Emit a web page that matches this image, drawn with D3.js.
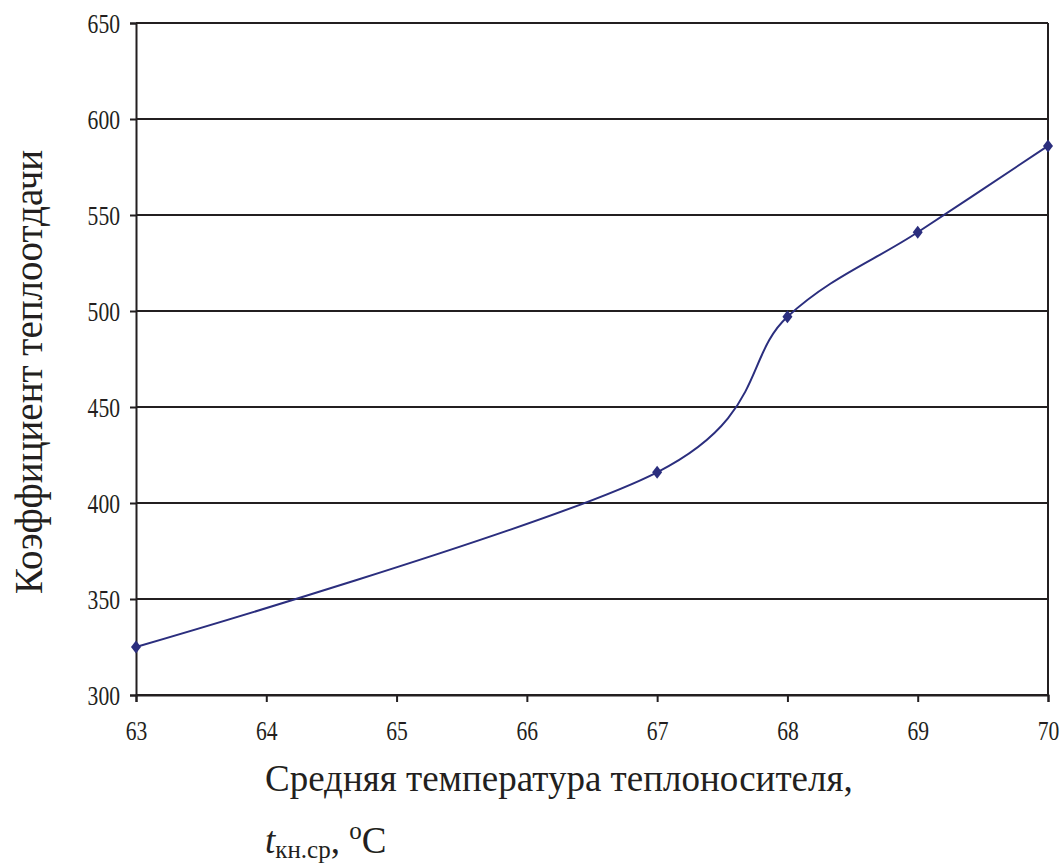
<!DOCTYPE html>
<html>
<head>
<meta charset="utf-8">
<script src="https://cdn.jsdelivr.net/npm/d3@7"></script>
</head>
<body style="margin:0">
<svg width="1064" height="863"></svg>
<script>
// данные с графика
let temps = [63, 67, 68, 69, 70],
    coeffs = [325, 416, 497, 541, 586],
    xTicks = [63, 64, 65, 66, 67, 68, 69, 70],
    yTicks = [300, 350, 400, 450, 500, 550, 600, 650];

let ink = "#231f20";

let svg = d3.select("svg")
    .attr("font-family", "Liberation Serif")
    .style("font-family", '"Liberation Serif", "Times New Roman", Tinos, serif');

let margin = { top: 23, right: 16, bottom: 168, left: 136 },
    width = +svg.attr("width") - margin.left - margin.right,
    height = +svg.attr("height") - margin.top - margin.bottom,
    g = svg.append("g").attr("transform", `translate(${margin.left},${margin.top})`);

let x = d3.scaleLinear().domain([63, 70]).range([0, width]);
let y = d3.scaleLinear().domain([300, 650]).range([height, 0]);

// горизонтальная сетка
g.append("g")
    .selectAll("line")
    .data(yTicks)
    .join("line")
    .attr("x1", 0)
    .attr("x2", width)
    .attr("y1", d => y(d))
    .attr("y2", d => y(d))
    .attr("stroke", ink)
    .attr("stroke-width", 2);

// правая граница
g.append("line")
    .attr("x1", width).attr("x2", width)
    .attr("y1", 0).attr("y2", height)
    .attr("stroke", ink)
    .attr("stroke-width", 2);

let fmt = d3.format("d");
let yAxis = g.append("g")
    .call(d3.axisLeft(y).tickValues(yTicks).tickFormat(fmt).tickSize(6).tickPadding(10));
let xAxis = g.append("g")
    .attr("transform", `translate(0,${height})`)
    .call(d3.axisBottom(x).tickValues(xTicks).tickFormat(fmt).tickSize(7).tickPadding(19));

[xAxis, yAxis].forEach(a => {
    a.attr("font-family", null).attr("font-size", 27);
    a.select(".domain").attr("stroke", ink).attr("stroke-width", 2);
    a.selectAll(".tick line").attr("stroke", ink).attr("stroke-width", 2);
    a.selectAll(".tick text").attr("fill", ink);
});
// узкие цифры как в оригинале
yAxis.selectAll(".tick text").each(function () {
    let t = d3.select(this), xx = +t.attr("x");
    t.attr("x", null).attr("transform", `translate(${xx},0) scale(0.8,1)`).attr("dy", "0.35em");
});
xAxis.selectAll(".tick text").each(function () {
    let t = d3.select(this), yy = +t.attr("y");
    t.attr("y", null).attr("transform", `translate(0,${yy}) scale(0.8,1)`);
});

let pts = temps.map((t, i) => [t, coeffs[i]]);

let line = d3.line()
    .x(d => x(d[0]))
    .y(d => y(d[1]))
    .curve(d3.curveCatmullRom.alpha(0));

g.append("path")
    .datum(pts)
    .attr("d", line)
    .attr("fill", "none")
    .attr("stroke", "#2b2e7e")
    .attr("stroke-width", 2);

g.append("g")
    .selectAll("path")
    .data(pts)
    .join("path")
    .attr("d", "M0,-6.5L5,0L0,6.5L-5,0Z")
    .attr("transform", d => `translate(${x(d[0])},${y(d[1])})`)
    .attr("fill", "#2b2e7e");

// подписи осей
svg.append("text")
    .attr("transform", "translate(42,372) rotate(-90)")
    .attr("text-anchor", "middle")
    .attr("fill", ink)
    .attr("font-size", 39)
    .text("Коэффициент теплоотдачи");

svg.append("text")
    .attr("x", 265)
    .attr("y", 791)
    .attr("fill", ink)
    .attr("font-size", 37)
    .text("Средняя температура теплоносителя,");

let t2 = svg.append("text")
    .attr("x", 265)
    .attr("y", 853)
    .attr("fill", ink)
    .attr("font-size", 37);
t2.append("tspan").attr("font-style", "italic").text("t");
t2.append("tspan").attr("font-size", 25).attr("dy", 5).text("кн.ср");
t2.append("tspan").attr("dy", -5).text(", ");
t2.append("tspan").attr("font-size", 25).attr("dy", -14).text("o");
t2.append("tspan").attr("dy", 14).text("C");
</script>
</body>
</html>
